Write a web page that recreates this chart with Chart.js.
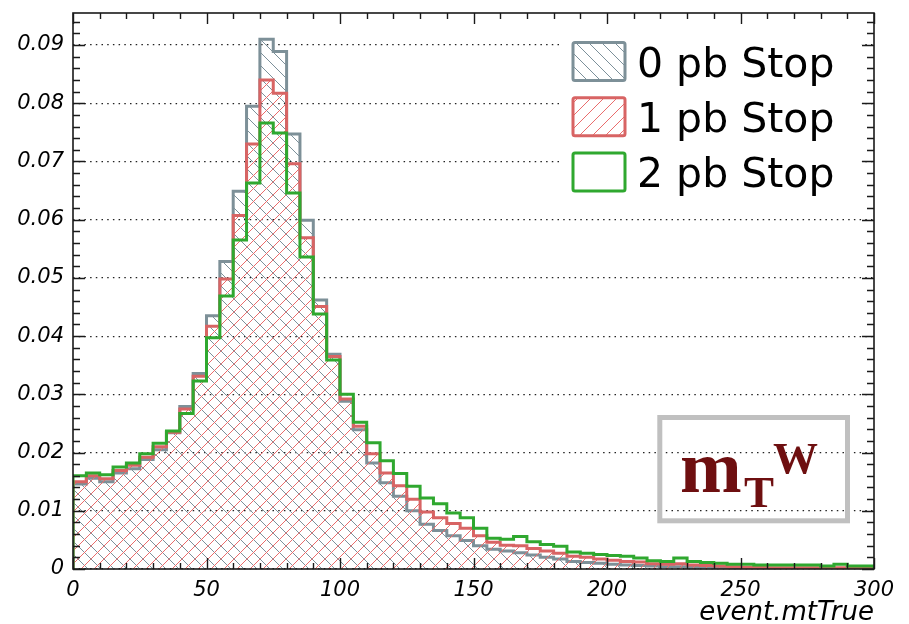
<!DOCTYPE html>
<html>
<head>
<meta charset="utf-8">
<script src="https://cdn.jsdelivr.net/npm/chart.js@4.4.1/dist/chart.umd.min.js"></script>
<style>
  html, body { margin: 0; padding: 0; background: #ffffff; }
  #wrap { width: 909px; height: 624px; }
</style>
</head>
<body>
<div id="wrap"><canvas id="c" width="909" height="624"></canvas></div>
<script>
// Lower edges of the 5-unit bins of event.mtTrue
const binLowEdges = [
  0, 5, 10, 15, 20, 25, 30, 35, 40, 45, 50, 55, 60, 65, 70, 75, 80, 85, 90, 95,
  100, 105, 110, 115, 120, 125, 130, 135, 140, 145, 150, 155, 160, 165, 170, 175, 180, 185, 190, 195,
  200, 205, 210, 215, 220, 225, 230, 235, 240, 245, 250, 255, 260, 265, 270, 275, 280, 285, 290, 295
];
const binWidth = 5;

// Normalised bin contents, one array per signal hypothesis
const stop0pb = [
  0.0146, 0.0156, 0.0150, 0.0165, 0.0172, 0.0188, 0.0205, 0.0234, 0.0279, 0.0336,
  0.0435, 0.0528, 0.0649, 0.0795, 0.0910, 0.0889, 0.0747, 0.0599, 0.0462, 0.0369,
  0.0288, 0.0239, 0.0182, 0.0148, 0.0125, 0.0100, 0.0077, 0.0066, 0.0057, 0.0049,
  0.0040, 0.0034, 0.0031, 0.0028, 0.0024, 0.0020, 0.0017, 0.0013, 0.0011, 0.0010,
  0.0008, 0.0007, 0.0006, 0.0005, 0.0004, 0.0004, 0.0003, 0.0003, 0.0002, 0.0002,
  0.0002, 0.0001, 0.0001, 0.0001, 0.0001, 0.0001, 0.0001, 0.0001, 0.0001, 0.0001
];
const stop1pb = [
  0.0150, 0.0160, 0.0155, 0.0169, 0.0178, 0.0192, 0.0210, 0.0235, 0.0275, 0.0331,
  0.0417, 0.0498, 0.0607, 0.0730, 0.0840, 0.0817, 0.0696, 0.0569, 0.0451, 0.0365,
  0.0292, 0.0245, 0.0198, 0.0165, 0.0143, 0.0120, 0.0098, 0.0088, 0.0078, 0.0070,
  0.0057, 0.0046, 0.0041, 0.0040, 0.0035, 0.0031, 0.0027, 0.0022, 0.0020, 0.0017,
  0.0015, 0.0013, 0.0012, 0.0009, 0.0008, 0.0009, 0.0007, 0.0006, 0.0005, 0.0004,
  0.0003, 0.0003, 0.0002, 0.0002, 0.0002, 0.0002, 0.0002, 0.0002, 0.0002, 0.0002
];
const stop2pb = [
  0.0160, 0.0165, 0.0162, 0.0175, 0.0182, 0.0198, 0.0216, 0.0237, 0.0267, 0.0323,
  0.0397, 0.0469, 0.0565, 0.0663, 0.0766, 0.0749, 0.0646, 0.0536, 0.0438, 0.0359,
  0.0300, 0.0252, 0.0217, 0.0186, 0.0164, 0.0142, 0.0122, 0.0112, 0.0096, 0.0088,
  0.0070, 0.0053, 0.0051, 0.0056, 0.0047, 0.0042, 0.0039, 0.0029, 0.0027, 0.0025,
  0.0023, 0.0022, 0.0019, 0.0014, 0.0013, 0.0019, 0.0013, 0.0011, 0.0010, 0.0008,
  0.0008, 0.0007, 0.0007, 0.0007, 0.0007, 0.0007, 0.0005, 0.0008, 0.0005, 0.0005
];

const seriesLabels = ['0 pb Stop', '1 pb Stop', '2 pb Stop'];
const xTickValues = [0, 50, 100, 150, 200, 250, 300];
const yTickValues = [0, 0.01, 0.02, 0.03, 0.04, 0.05, 0.06, 0.07, 0.08, 0.09];
const xTitle = 'event.mtTrue';

const X_MIN = 0, X_MAX = 300, Y_MIN = 0, Y_MAX = 0.0955;

const COL_GREY = '#7d9098';
const COL_RED = '#d86464';
const COL_GREEN = '#2fa82f';

// Pixel-exact diagonal hatch tiles: 'back' = "\\\\", 'fwd' = "////"
function hatch(color, dir) {
  const s = 13;
  const cv = document.createElement('canvas');
  cv.width = s; cv.height = s;
  const g = cv.getContext('2d');
  g.fillStyle = color;
  for (let i = 0; i < s; i++) {
    const col = dir === 'back' ? i : s - 1 - i;
    g.fillRect(col, i, 1, 1);
  }
  return g.createPattern(cv, 'repeat');
}
const hatchGrey = hatch('rgb(124,144,154)', 'back');
const hatchRed = hatch('rgb(234,108,108)', 'fwd');

// Step outline of a histogram: baseline, one point per bin low edge, closing edge
function histPoints(vals) {
  const pts = [{ x: binLowEdges[0], y: 0 }];
  vals.forEach((v, i) => pts.push({ x: binLowEdges[i], y: v }));
  pts.push({ x: binLowEdges[binLowEdges.length - 1] + binWidth, y: 0 });
  return pts;
}

function histDataset(label, vals, color, fill, order) {
  return {
    label,
    data: histPoints(vals),
    stepped: 'before',
    borderColor: color,
    borderWidth: 3,
    borderJoinStyle: 'miter',
    pointRadius: 0,
    pointHoverRadius: 0,
    backgroundColor: fill || 'rgba(0,0,0,0)',
    fill: fill ? 'origin' : false,
    order
  };
}

const datasets = [
  histDataset(seriesLabels[0], stop0pb, COL_GREY, hatchGrey, 2),
  histDataset(seriesLabels[1], stop1pb, COL_RED, hatchRed, 1),
  histDataset(seriesLabels[2], stop2pb, COL_GREEN, null, 0)
];

// Frame with inward ticks, legend and the observable label
const decorations = {
  id: 'decorations',
  afterDraw(chart) {
    const { ctx, chartArea: a, scales: { x, y } } = chart;
    ctx.save();

    // legend
    ctx.fillStyle = '#ffffff';
    ctx.fillRect(562, 24, 299, 180);
    const centres = [61.5, 116.7, 172];
    chart.data.datasets.forEach((ds, i) => {
      const cy = centres[i];
      const bx = 573, bw = 52, bh = 38, by = cy - bh / 2;
      ctx.beginPath();
      if (ctx.roundRect) ctx.roundRect(bx, by, bw, bh, 2); else ctx.rect(bx, by, bw, bh);
      if (ds.fill) { ctx.fillStyle = ds.backgroundColor; ctx.fill(); }
      ctx.lineWidth = 3;
      ctx.strokeStyle = ds.borderColor;
      ctx.stroke();
      ctx.fillStyle = '#000000';
      ctx.font = '41px "DejaVu Sans"';
      ctx.textAlign = 'left';
      ctx.textBaseline = 'alphabetic';
      ctx.fillText(ds.label, 637, cy + 15.3);
    });

    // m_T^W box
    ctx.strokeStyle = '#c0c0c0';
    ctx.lineWidth = 5;
    ctx.strokeRect(659.8, 417.5, 187.7, 103.3);
    ctx.fillStyle = '#6e0f10';
    ctx.textAlign = 'left';
    ctx.textBaseline = 'alphabetic';
    ctx.font = 'bold 74px "Liberation Serif"';
    ctx.fillText('m', 680, 492);
    ctx.font = 'bold 45px "Liberation Serif"';
    ctx.fillText('T', 744, 506.5);
    ctx.fillText('W', 773, 473);

    // frame
    ctx.strokeStyle = '#1a1a1a';
    ctx.lineWidth = 1.6;
    ctx.strokeRect(a.left, a.top, a.right - a.left, a.bottom - a.top);

    ctx.lineWidth = 1.4;
    ctx.beginPath();
    for (let v = X_MIN; v <= X_MAX + 1e-9; v += 10) {
      const px = Math.round(x.getPixelForValue(v)) + 0.5;
      const len = (v % 50 === 0) ? 11 : 6;
      ctx.moveTo(px, a.bottom); ctx.lineTo(px, a.bottom - len);
      ctx.moveTo(px, a.top); ctx.lineTo(px, a.top + len);
    }
    for (let k = 0; k * 0.002 <= Y_MAX; k++) {
      const py = Math.round(y.getPixelForValue(k * 0.002)) + 0.5;
      const len = (k % 5 === 0) ? 12 : 7;
      ctx.moveTo(a.left, py); ctx.lineTo(a.left + len, py);
      ctx.moveTo(a.right, py); ctx.lineTo(a.right - len, py);
    }
    ctx.stroke();
    ctx.restore();
  }
};

const tickFont = { family: '"DejaVu Sans"', size: 21, style: 'italic' };

new Chart(document.getElementById('c'), {
  type: 'line',
  data: { datasets },
  options: {
    responsive: false,
    animation: false,
    devicePixelRatio: 1,
    events: [],
    layout: { padding: { top: 13, right: 35, left: 0, bottom: 0 } },
    plugins: { legend: { display: false }, tooltip: { enabled: false } },
    scales: {
      x: {
        type: 'linear',
        min: X_MIN,
        max: X_MAX,
        afterBuildTicks(scale) { scale.ticks = xTickValues.map(v => ({ value: v })); },
        afterFit(scale) {
          scale.height = 55;
          scale.paddingLeft = 0;
          scale.paddingRight = 0;
        },
        grid: { display: false },
        border: { display: false },
        ticks: {
          font: tickFont,
          color: '#000000',
          padding: 1,
          maxRotation: 0,
          autoSkip: false,
          callback: v => String(v)
        },
        title: {
          display: true,
          text: xTitle,
          align: 'end',
          color: '#000000',
          font: { family: '"DejaVu Sans"', size: 26, style: 'italic', lineHeight: 1 },
          padding: { top: 0, bottom: -2 }
        }
      },
      y: {
        min: Y_MIN,
        max: Y_MAX,
        afterBuildTicks(scale) { scale.ticks = yTickValues.map(v => ({ value: v })); },
        afterFit(scale) {
          scale.width = 73;
          scale.paddingTop = 0;
          scale.paddingBottom = 0;
        },
        grid: { color: '#222222', lineWidth: 1.2, drawTicks: false },
        border: { display: false, dash: [1.5, 4.2] },
        ticks: {
          font: tickFont,
          color: '#000000',
          padding: 9,
          autoSkip: false,
          callback: v => (v === 0 ? '0' : v.toFixed(2))
        }
      }
    }
  },
  plugins: [decorations]
});
</script>
</body>
</html>
